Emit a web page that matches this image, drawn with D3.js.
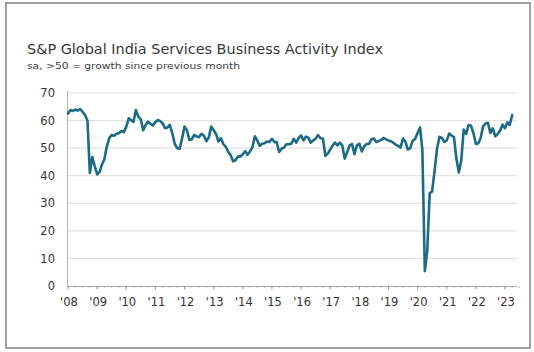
<!DOCTYPE html>
<html>
<head>
<meta charset="utf-8">
<script src="https://cdn.jsdelivr.net/npm/d3@7"></script>
<style>
  html, body { margin: 0; padding: 0; background: #fff; }
  svg { display: block; }
  text { font-family: "DejaVu Sans", "Liberation Sans", Arial, sans-serif; }
</style>
</head>
<body>
<svg id="chart" width="534" height="352"></svg>
<script>
// ---- Data (monthly, Jan of each year through Dec; 2023 through Apr) ----
const title = "S&P Global India Services Business Activity Index";
const subtitle = "sa, >50 = growth since previous month";
const yTicks = [0, 10, 20, 30, 40, 50, 60, 70];
const yearLabels = ["'08","'09","'10","'11","'12","'13","'14","'15","'16","'17","'18","'19","'20","'21","'22","'23"];

const v2008 = [62.6, 63.8, 63.5, 64.0, 63.6, 64.2, 63.2, 62.0, 60.0, 41.0, 46.8, 43.5];
const v2009 = [40.5, 41.5, 44.0, 46.0, 50.5, 53.6, 54.8, 54.5, 55.2, 55.4, 56.2, 55.8];
const v2010 = [57.8, 60.8, 60.2, 59.5, 63.8, 61.4, 60.5, 56.5, 58.5, 59.6, 58.8, 58.2];
const v2011 = [59.5, 60.2, 59.8, 59.0, 57.2, 57.5, 58.4, 55.4, 51.5, 50.0, 49.8, 53.5];
const v2012 = [57.8, 56.5, 53.0, 53.2, 54.8, 54.2, 54.0, 55.2, 54.5, 52.5, 54.0, 57.8];
const v2013 = [56.5, 55.0, 52.4, 53.6, 51.5, 50.5, 48.7, 47.5, 45.2, 45.6, 47.0, 46.9];
const v2014 = [47.8, 48.9, 47.6, 48.8, 50.3, 54.3, 52.8, 50.8, 51.6, 51.8, 52.4, 52.2];
const v2015 = [53.4, 52.2, 52.2, 48.6, 49.8, 50.2, 51.4, 51.4, 51.6, 53.4, 52.0, 53.6];
const v2016 = [54.6, 52.8, 54.2, 53.8, 52.0, 52.8, 53.4, 54.7, 53.6, 53.5, 47.2, 48.0];
const v2017 = [49.5, 51.0, 52.0, 51.0, 52.0, 51.0, 46.2, 48.5, 51.0, 51.5, 47.8, 51.0];
const v2018 = [51.6, 48.8, 50.6, 51.5, 51.5, 53.2, 53.5, 52.2, 52.6, 53.0, 53.7, 53.2];
const v2019 = [52.8, 52.5, 52.0, 51.3, 50.8, 50.2, 53.5, 52.4, 49.5, 50.0, 52.7, 53.3];
const v2020 = [55.5, 57.5, 49.3, 5.4, 12.6, 33.7, 34.2, 41.8, 49.8, 54.1, 53.7, 52.3];
const v2021 = [52.8, 55.3, 54.6, 54.0, 46.4, 41.2, 45.4, 56.7, 55.2, 58.4, 58.1, 55.5];
const v2022 = [51.5, 51.8, 53.6, 57.9, 58.9, 59.2, 55.5, 57.2, 54.3, 55.1, 56.4, 58.5];
const v2023 = [57.2, 59.4, 58.4, 62.0];

const yearSeries = [v2008, v2009, v2010, v2011, v2012, v2013, v2014, v2015,
                    v2016, v2017, v2018, v2019, v2020, v2021, v2022, v2023];
const firstYear = 2008;

// Build the (date, value) table
const data = [];
yearSeries.forEach((arr, yi) => {
  arr.forEach((v, m) => data.push({ date: new Date(firstYear + yi, m, 1), value: v }));
});

// ---- Drawing ----
const svg = d3.select("#chart");

// outer frame
svg.append("rect")
  .attr("x", 6).attr("y", 3).attr("width", 524).attr("height", 345)
  .attr("fill", "#fff").attr("stroke", "#8a8a8a").attr("stroke-width", 1.6);

const x = d3.scaleTime()
  .domain([new Date(2008, 0, 1), new Date(2023, 0, 1)])
  .range([68, 505]);
const y = d3.scaleLinear().domain([0, 70]).range([286, 93]);
const gridRight = 517;

// title
svg.append("text").attr("x", 27).attr("y", 54)
  .attr("font-size", 13.5).attr("fill", "#383838")
  .attr("textLength", 356).attr("lengthAdjust", "spacingAndGlyphs")
  .text(title);
svg.append("text").attr("x", 27).attr("y", 68.5)
  .attr("font-size", 9).attr("fill", "#3c3c3c")
  .attr("textLength", 213).attr("lengthAdjust", "spacingAndGlyphs")
  .text(subtitle);

// gridlines
svg.append("g").selectAll("line").data(yTicks.filter(d => d > 0)).join("line")
  .attr("x1", x.range()[0]).attr("x2", gridRight)
  .attr("y1", d => y(d)).attr("y2", d => y(d))
  .attr("stroke", "#e2e2e2").attr("stroke-width", 1.2);

// y axis line
svg.append("line").attr("x1", 67.5).attr("x2", 67.5)
  .attr("y1", y(70) - 2).attr("y2", y(0))
  .attr("stroke", "#b5b5b5").attr("stroke-width", 1);

// y tick labels
svg.append("g").selectAll("text").data(yTicks).join("text")
  .attr("x", 55).attr("y", d => y(d)).attr("dy", "0.36em")
  .attr("text-anchor", "end").attr("font-size", 11.5).attr("fill", "#333")
  .text(d => d);

// x axis line
svg.append("line").attr("x1", 67).attr("x2", gridRight)
  .attr("y1", y(0) + 0.5).attr("y2", y(0) + 0.5)
  .attr("stroke", "#a8a8a8").attr("stroke-width", 1);

// minor (quarterly) ticks
const quarters = d3.timeMonth.every(3).range(new Date(2008, 0, 1), new Date(2023, 6, 2));
svg.append("g").selectAll("line").data(quarters).join("line")
  .attr("x1", d => x(d)).attr("x2", d => x(d))
  .attr("y1", y(0)).attr("y2", y(0) + 2)
  .attr("stroke", "#b0b0b0").attr("stroke-width", 0.8);

// year ticks + labels
const yearDates = yearLabels.map((l, i) => new Date(firstYear + i, 0, 1));
svg.append("g").selectAll("line").data(yearDates).join("line")
  .attr("x1", d => x(d)).attr("x2", d => x(d))
  .attr("y1", y(0)).attr("y2", y(0) + 3.5)
  .attr("stroke", "#999").attr("stroke-width", 1);
svg.append("g").selectAll("text").data(yearLabels).join("text")
  .attr("x", (d, i) => x(yearDates[i]) + 1).attr("y", 306)
  .attr("text-anchor", "middle").attr("font-size", 11.5).attr("fill", "#333")
  .text(d => d);

// the series line
const line = d3.line().x(d => x(d.date)).y(d => y(d.value)).curve(d3.curveLinear);
svg.append("path").datum(data)
  .attr("d", line).attr("fill", "none")
  .attr("stroke", "#1b6a86").attr("stroke-width", 2.6)
  .attr("stroke-linejoin", "round").attr("stroke-linecap", "round");
</script>
</body>
</html>
